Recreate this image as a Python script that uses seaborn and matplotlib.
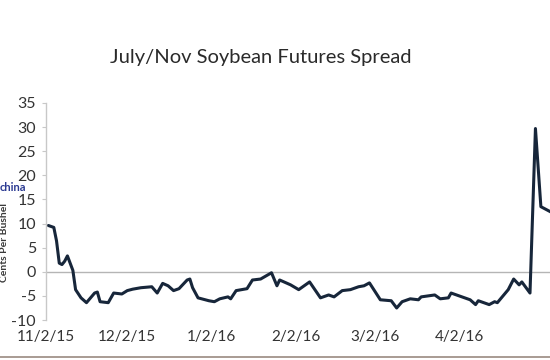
import matplotlib
matplotlib.use("Agg")
import matplotlib.pyplot as plt
import seaborn as sns
import pandas as pd

# ---- data ----
dates = [
    "2015-11-03", "2015-11-05", "2015-11-06", "2015-11-07", "2015-11-08", "2015-11-09",
    "2015-11-10", "2015-11-12", "2015-11-13", "2015-11-15", "2015-11-17", "2015-11-20",
    "2015-11-21", "2015-11-22", "2015-11-25", "2015-11-27", "2015-11-30", "2015-12-02",
    "2015-12-04", "2015-12-07", "2015-12-11", "2015-12-13", "2015-12-15", "2015-12-17",
    "2015-12-19", "2015-12-21", "2015-12-24", "2015-12-25", "2015-12-26", "2015-12-28",
    "2016-01-01", "2016-01-03", "2016-01-05", "2016-01-08", "2016-01-09", "2016-01-11",
    "2016-01-15", "2016-01-17", "2016-01-20", "2016-01-24", "2016-01-26", "2016-01-27",
    "2016-01-31", "2016-02-03", "2016-02-07", "2016-02-11", "2016-02-14", "2016-02-16",
    "2016-02-19", "2016-02-22", "2016-02-25", "2016-02-27", "2016-02-29", "2016-03-04",
    "2016-03-08", "2016-03-10", "2016-03-12", "2016-03-15", "2016-03-18", "2016-03-19",
    "2016-03-24", "2016-03-26", "2016-03-29", "2016-03-30", "2016-04-03", "2016-04-06",
    "2016-04-08", "2016-04-09", "2016-04-13", "2016-04-15", "2016-04-16", "2016-04-20",
    "2016-04-22", "2016-04-24", "2016-04-25", "2016-04-28", "2016-04-30", "2016-05-02",
    "2016-05-07",
]
spread = [
    9.6, 9.2, 6.4, 1.8, 1.5, 2.2,
    3.3, 0.3, -3.7, -5.4, -6.4, -4.4,
    -4.2, -6.2, -6.4, -4.4, -4.6, -3.9,
    -3.6, -3.3, -3.1, -4.4, -2.4, -2.9,
    -3.9, -3.5, -1.7, -1.5, -3.3, -5.4,
    -6.0, -6.2, -5.6, -5.2, -5.6, -3.9,
    -3.5, -1.7, -1.5, -0.2, -2.9, -1.7,
    -2.7, -3.7, -2.1, -5.4, -4.8, -5.2,
    -3.9, -3.7, -3.1, -2.9, -2.3, -5.8,
    -6.0, -7.5, -6.2, -5.6, -5.8, -5.2,
    -4.8, -5.6, -5.4, -4.4, -5.2, -5.8,
    -6.8, -6.0, -6.8, -6.2, -6.4, -3.7,
    -1.5, -2.7, -2.1, -4.4, 29.7, 13.5,
    12.0,
]
tick_dates = ["2015-11-02", "2015-12-02", "2016-01-02", "2016-02-02", "2016-03-02", "2016-04-02"]
tick_labels = ["11/2/15", "12/2/15", "1/2/16", "2/2/16", "3/2/16", "4/2/16"]
y_ticks = [-10, -5, 0, 5, 10, 15, 20, 25, 30, 35]

title = "July/Nov Soybean Futures Spread"
y_label = "Cents Per Bushel"

df = pd.DataFrame({"date": pd.to_datetime(dates), "spread": spread})

sns.set_theme(style="white")
plt.rcParams["font.family"] = ["Lato", "DejaVu Sans"]

fig = plt.figure(figsize=(5.5, 3.6), dpi=100)
fig.patch.set_facecolor("white")
# axes extends past the right edge of the figure (reference is cropped there)
ax = fig.add_axes([0.083, 0.111, 0.94, 0.603])

sns.lineplot(data=df, x="date", y="spread", ax=ax, color="#17263a", linewidth=2.2)

ax.set_xlim(pd.Timestamp("2015-11-02"), pd.Timestamp("2016-05-10"))
ax.set_ylim(-10, 35)
ax.set_yticks(y_ticks)
ax.set_yticklabels([str(v) for v in y_ticks])
ax.set_xticks(pd.to_datetime(tick_dates))
ax.set_xticklabels(tick_labels)

ax.axhline(0, color="#b5b5b5", linewidth=1.0, zorder=0)

for s in ["top", "right", "bottom"]:
    ax.spines[s].set_visible(False)
ax.spines["left"].set_color("#c8c8c8")
ax.spines["left"].set_linewidth(1.0)

ax.tick_params(axis="y", which="major", left=True, length=3, width=0.8,
               color="#c8c8c8", labelsize=11.5, labelcolor="#333333", pad=4)
ax.tick_params(axis="x", which="major", bottom=False, length=0,
               labelsize=11, labelcolor="#333333", pad=7)
ax.set_xlabel("")
ax.set_ylabel("")

fig.text(261 / 550, 1 - 57 / 360, title, ha="center", va="center",
         fontsize=14.5, color="#2a2a2a")

fig.text(5 / 550, 1 - 242 / 360, y_label, rotation=90, ha="center", va="center",
         fontsize=7.5, fontweight="bold", color="#3a3a3a")
fig.text(0 / 550, 1 - 187 / 360, "china", ha="left", va="center",
         fontsize=8, fontweight="bold", color="#2b3a92",
         bbox=dict(facecolor="white", edgecolor="none", pad=0.5))

# thin frame line at the bottom of the picture
fig.add_artist(plt.Line2D([0, 1], [1 - 357 / 360, 1 - 357 / 360],
                          transform=fig.transFigure, color="#9a8a80", linewidth=1.2))

fig.savefig("out.png", dpi=100)
